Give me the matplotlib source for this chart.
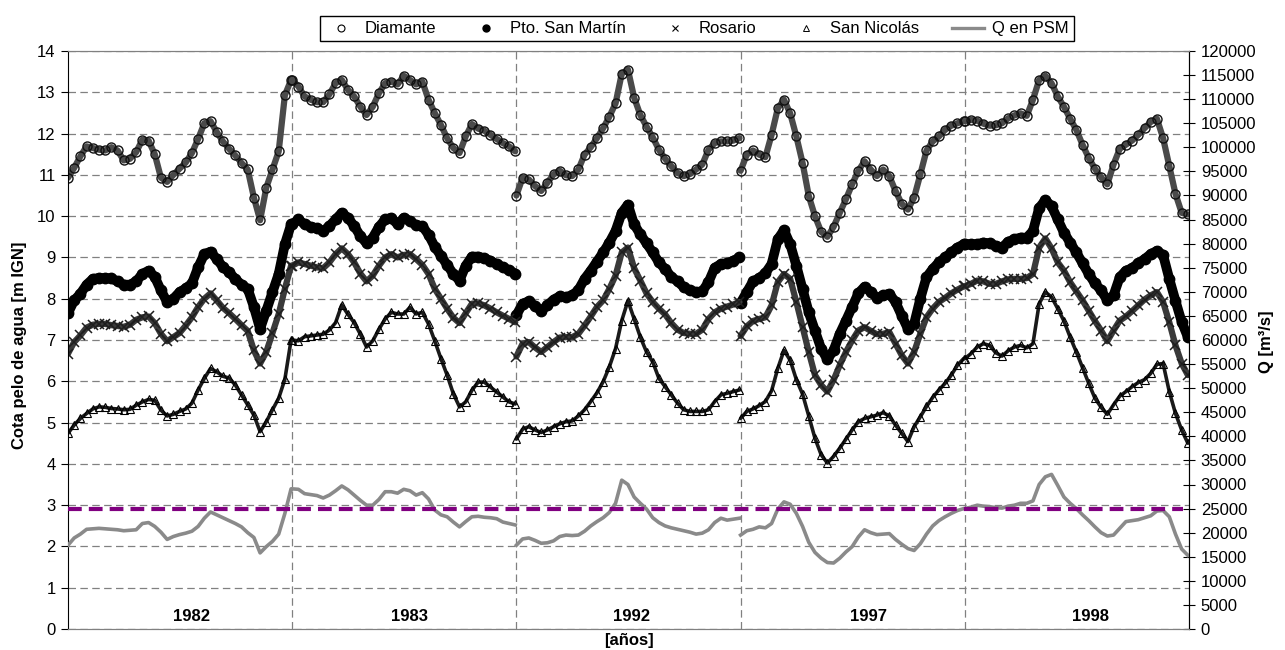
import numpy as np
import matplotlib
import matplotlib.pyplot as plt
from matplotlib.lines import Line2D

matplotlib.use('Agg')
plt.rcParams['font.family'] = ['Liberation Sans', 'DejaVu Sans']

anios = ['1982', '1983', '1992', '1997', '1998']

# Lecturas cada ~10 días (37 por año), cota en m IGN
diamante_1982 = [10.93, 11.17, 11.45, 11.69, 11.65, 11.61, 11.59, 11.67, 11.59, 11.35, 11.39, 11.55, 11.85, 11.83,
                 11.5, 10.93, 10.83, 11.0, 11.15, 11.3, 11.53, 11.87, 12.25, 12.3, 12.04, 11.81, 11.63, 11.47,
                 11.29, 11.13, 10.45, 9.9, 10.69, 11.13, 11.57, 12.93, 13.3]
diamante_1983 = [13.3, 13.14, 12.9, 12.82, 12.76, 12.76, 12.95, 13.22, 13.3, 13.06, 12.9, 12.65, 12.45, 12.65,
                 12.98, 13.22, 13.26, 13.19, 13.4, 13.3, 13.19, 13.26, 12.82, 12.5, 12.21, 11.89, 11.65, 11.53,
                 11.93, 12.23, 12.12, 12.07, 11.97, 11.87, 11.77, 11.69, 11.57]
diamante_1992 = [10.5, 10.93, 10.89, 10.73, 10.61, 10.81, 11.01, 11.1, 10.99, 10.97, 11.13, 11.49, 11.67, 11.89,
                 12.13, 12.41, 12.73, 13.45, 13.55, 12.87, 12.45, 12.17, 11.91, 11.61, 11.39, 11.21, 11.05, 10.97,
                 11.02, 11.13, 11.25, 11.61, 11.77, 11.81, 11.81, 11.83, 11.89]
diamante_1997 = [11.1, 11.49, 11.59, 11.49, 11.43, 11.97, 12.61, 12.82, 12.49, 11.93, 11.29, 10.49, 10.0, 9.62,
                 9.5, 9.74, 10.08, 10.41, 10.77, 11.1, 11.33, 11.13, 10.97, 11.13, 10.97, 10.61, 10.3, 10.16,
                 10.45, 11.01, 11.59, 11.81, 11.93, 12.09, 12.19, 12.25, 12.3]
diamante_1998 = [12.3, 12.33, 12.31, 12.24, 12.19, 12.2, 12.25, 12.37, 12.44, 12.49, 12.43, 12.82, 13.3, 13.4,
                 13.22, 12.9, 12.65, 12.36, 12.09, 11.73, 11.41, 11.15, 10.94, 10.77, 11.25, 11.63, 11.73, 11.83,
                 11.97, 12.13, 12.28, 12.36, 11.89, 11.21, 10.54, 10.08, 10.04]

psm_1982 = [7.65, 7.96, 8.12, 8.34, 8.48, 8.5, 8.5, 8.49, 8.42, 8.34, 8.34, 8.42, 8.6, 8.68, 8.53, 8.2, 7.92, 8.0,
            8.16, 8.25, 8.37, 8.76, 9.08, 9.14, 8.96, 8.77, 8.64, 8.48, 8.34, 8.24, 7.8, 7.27, 7.71, 8.16, 8.6,
            9.32, 9.8]
psm_1983 = [9.8, 9.92, 9.8, 9.74, 9.71, 9.64, 9.76, 9.92, 10.08, 9.96, 9.76, 9.52, 9.34, 9.48, 9.74, 9.92, 9.96,
            9.8, 9.96, 9.88, 9.78, 9.76, 9.55, 9.26, 9.04, 8.82, 8.6, 8.44, 8.8, 9.02, 9.02, 8.98, 8.92, 8.84, 8.76,
            8.69, 8.61]
psm_1992 = [7.6, 7.88, 7.94, 7.82, 7.71, 7.84, 7.98, 8.06, 8.04, 8.08, 8.21, 8.48, 8.68, 8.9, 9.12, 9.36, 9.64,
            10.08, 10.28, 9.8, 9.56, 9.34, 9.12, 8.88, 8.72, 8.53, 8.42, 8.28, 8.2, 8.16, 8.18, 8.4, 8.75, 8.84,
            8.86, 8.92, 9.0]
psm_1997 = [7.9, 8.16, 8.42, 8.5, 8.62, 8.84, 9.44, 9.66, 9.32, 8.8, 8.24, 7.67, 7.23, 6.79, 6.53, 6.75, 7.15,
            7.47, 7.8, 8.13, 8.29, 8.16, 8.02, 8.08, 8.12, 7.92, 7.59, 7.27, 7.39, 8.0, 8.52, 8.72, 8.88, 9.0,
            9.12, 9.24, 9.32]
psm_1998 = [9.32, 9.32, 9.32, 9.36, 9.34, 9.28, 9.24, 9.38, 9.44, 9.48, 9.48, 9.64, 10.2, 10.39, 10.24, 9.92, 9.6,
            9.36, 9.12, 8.86, 8.6, 8.37, 8.2, 7.96, 8.08, 8.52, 8.68, 8.74, 8.86, 8.96, 9.08, 9.16, 9.06, 8.48,
            7.95, 7.44, 7.07]

rosario_1982 = [6.67, 6.95, 7.11, 7.3, 7.37, 7.39, 7.39, 7.36, 7.34, 7.32, 7.37, 7.49, 7.55, 7.57, 7.41, 7.15,
                6.97, 7.07, 7.17, 7.35, 7.55, 7.8, 8.0, 8.13, 7.96, 7.78, 7.65, 7.51, 7.36, 7.22, 6.75, 6.43,
                6.71, 7.17, 7.63, 8.24, 8.8]
rosario_1983 = [8.8, 8.88, 8.84, 8.8, 8.76, 8.74, 8.88, 9.08, 9.22, 9.08, 8.88, 8.61, 8.42, 8.56, 8.8, 9.0, 9.08,
                9.0, 9.06, 9.08, 8.96, 8.82, 8.6, 8.24, 8.0, 7.76, 7.54, 7.41, 7.65, 7.88, 7.89, 7.84, 7.76, 7.67,
                7.59, 7.51, 7.43]
rosario_1992 = [6.6, 6.91, 6.95, 6.82, 6.71, 6.83, 6.95, 7.06, 7.07, 7.07, 7.15, 7.35, 7.57, 7.8, 7.96, 8.24,
                8.56, 9.12, 9.24, 8.74, 8.44, 8.13, 7.92, 7.76, 7.62, 7.41, 7.25, 7.17, 7.15, 7.15, 7.25, 7.51,
                7.67, 7.76, 7.81, 7.86, 7.92]
rosario_1997 = [7.1, 7.33, 7.46, 7.51, 7.55, 7.84, 8.4, 8.6, 8.48, 7.92, 7.31, 6.71, 6.15, 5.91, 5.75, 6.03, 6.39,
                6.71, 6.99, 7.23, 7.31, 7.22, 7.14, 7.15, 7.19, 6.91, 6.63, 6.43, 6.71, 7.15, 7.55, 7.76, 7.92,
                8.02, 8.13, 8.22, 8.3]
rosario_1998 = [8.3, 8.36, 8.44, 8.42, 8.36, 8.36, 8.42, 8.47, 8.48, 8.48, 8.5, 8.6, 9.24, 9.46, 9.22, 8.88, 8.68,
                8.4, 8.18, 7.96, 7.71, 7.46, 7.23, 6.97, 7.23, 7.47, 7.57, 7.7, 7.84, 7.98, 8.08, 8.16, 7.92, 7.43,
                6.87, 6.43, 6.15]

nicolas_1982 = [4.74, 4.94, 5.1, 5.22, 5.33, 5.38, 5.37, 5.34, 5.33, 5.31, 5.32, 5.42, 5.5, 5.56, 5.54, 5.3, 5.16,
                5.2, 5.27, 5.33, 5.47, 5.79, 6.07, 6.31, 6.23, 6.12, 6.08, 5.91, 5.67, 5.43, 5.18, 4.78, 5.02,
                5.31, 5.59, 6.05, 7.0]
nicolas_1983 = [7.0, 6.98, 7.08, 7.1, 7.12, 7.14, 7.24, 7.42, 7.85, 7.62, 7.42, 7.14, 6.83, 6.98, 7.26, 7.51,
                7.67, 7.63, 7.63, 7.79, 7.63, 7.67, 7.39, 6.98, 6.55, 6.15, 5.7, 5.38, 5.5, 5.78, 5.98, 5.98, 5.86,
                5.74, 5.62, 5.5, 5.45]
nicolas_1992 = [4.6, 4.84, 4.9, 4.82, 4.76, 4.82, 4.9, 4.97, 5.02, 5.04, 5.16, 5.31, 5.51, 5.72, 5.99, 6.35, 6.79,
                7.47, 7.95, 7.51, 7.07, 6.71, 6.47, 6.07, 5.87, 5.67, 5.47, 5.31, 5.27, 5.27, 5.27, 5.31, 5.51,
                5.67, 5.71, 5.75, 5.79]
nicolas_1997 = [5.1, 5.27, 5.33, 5.41, 5.51, 5.77, 6.31, 6.75, 6.51, 6.04, 5.69, 5.16, 4.62, 4.22, 4.02, 4.18,
                4.38, 4.6, 4.82, 5.02, 5.1, 5.14, 5.18, 5.24, 5.16, 4.94, 4.74, 4.54, 4.9, 5.14, 5.39, 5.61, 5.79,
                5.95, 6.15, 6.39, 6.55]
nicolas_1998 = [6.55, 6.67, 6.83, 6.91, 6.87, 6.69, 6.61, 6.74, 6.83, 6.87, 6.81, 6.91, 7.88, 8.16, 8.04, 7.76,
                7.46, 7.07, 6.71, 6.33, 5.95, 5.59, 5.37, 5.2, 5.43, 5.64, 5.75, 5.87, 5.97, 6.04, 6.19, 6.41, 6.43,
                5.75, 5.22, 4.82, 4.5]

# Caudal en Puerto San Martín [m3/s]
q_1982 = [17400, 18900, 19700, 20700, 20800, 20900, 20800, 20700, 20600, 20400, 20500, 20600, 21900, 22100, 21300,
          20100, 18600, 19200, 19600, 19900, 20300, 21300, 23000, 24300, 23700, 23100, 22500, 21900, 21200, 20000,
          19000, 15800, 17100, 18200, 19700, 24000, 29100]
q_1983 = [29100, 29000, 28100, 27900, 27700, 27200, 27800, 28700, 29700, 28900, 27800, 26700, 25700, 25700, 26900,
          28500, 28500, 28200, 29000, 28700, 27800, 28300, 27000, 24700, 23700, 23300, 22200, 21200, 22300, 23300,
          23400, 23200, 23100, 22900, 22200, 21900, 21600]
q_1992 = [17400, 18700, 18900, 18400, 17800, 17900, 18300, 19200, 19500, 19400, 19500, 20300, 21400, 22300, 23100,
          24200, 26100, 30900, 30000, 27400, 26100, 24900, 23100, 22100, 21400, 21000, 20700, 20400, 20100, 19700,
          19900, 20600, 22100, 23000, 22600, 22800, 23000]
q_1997 = [19500, 20400, 20700, 21200, 21000, 21900, 24900, 26400, 25900, 24000, 21300, 18000, 15900, 14700, 13800,
          13700, 14700, 16000, 17100, 19100, 20600, 20000, 19600, 19700, 19800, 18600, 17600, 16700, 16300, 17700,
          19700, 21400, 22500, 23300, 24000, 24600, 25000]
q_1998 = [25000, 25300, 25700, 25500, 25400, 25200, 25100, 25500, 25700, 26100, 26100, 26600, 30000, 31600, 32100,
          29800, 27400, 26100, 25000, 23700, 22500, 21200, 20000, 19300, 19500, 20900, 22300, 22500, 22700, 23100,
          23500, 24500, 24600, 23300, 19700, 16600, 15300]

q_umbral = 25000

pasos = np.arange(37) / 36 * 0.995


def serie(por_anio):
    # une los años; 1983-1992 y 1992-1997 no son continuos
    xs, ys = [], []
    for i, vals in enumerate(por_anio):
        xs.append(i + pasos)
        ys.append(np.asarray(vals, dtype=float))
        if i in (1, 2):
            xs.append([np.nan])
            ys.append([np.nan])
    return np.concatenate(xs), np.concatenate(ys)


x_d, y_d = serie([diamante_1982, diamante_1983, diamante_1992, diamante_1997, diamante_1998])
x_p, y_p = serie([psm_1982, psm_1983, psm_1992, psm_1997, psm_1998])
x_r, y_r = serie([rosario_1982, rosario_1983, rosario_1992, rosario_1997, rosario_1998])
x_n, y_n = serie([nicolas_1982, nicolas_1983, nicolas_1992, nicolas_1997, nicolas_1998])
x_q, y_q = serie([q_1982, q_1983, q_1992, q_1997, q_1998])

fig = plt.figure(figsize=(12.85, 6.5), dpi=100)
ax = fig.add_axes([68 / 1285, 21 / 650, 1121 / 1285, 578 / 650])
ax2 = ax.twinx()

# bandas gruesas: en el original hay un dato por día y los marcadores se pisan
ax.plot(x_d, y_d, color='#4a4a4a', lw=4.5, solid_capstyle='round')
ax.plot(x_d, y_d, ls='none', marker='o', ms=6.5, mfc='none', mec='#111111', mew=1.0)
ax.plot(x_p, y_p, color='black', lw=7, marker='o', ms=7.5, mfc='black', mec='black', solid_capstyle='round')
ax.plot(x_r, y_r, color='#3a3a3a', lw=4.5, solid_capstyle='round')
ax.plot(x_r, y_r, ls='none', marker='x', ms=7.5, mec='#1e1e1e', mew=1.1)
ax.plot(x_n, y_n, color='#1a1a1a', lw=2.6, solid_capstyle='round')
ax.plot(x_n, y_n, ls='none', marker='^', ms=5.5, mfc='none', mec='black', mew=0.8)

ax2.plot(x_q, y_q, color='#8a8a8a', lw=2.6)
ax2.axhline(q_umbral, xmin=0, xmax=0.995, color='#800080', lw=3, linestyle=(0, (3.3, 1.7)))

ax.set_xlim(0, 5)
ax.set_ylim(0, 14)
ax2.set_ylim(0, 120000)
ax.set_yticks(range(0, 15))
ax2.set_yticks(range(0, 120001, 5000))

ax.set_xticks([1, 2, 3, 4])
ax.tick_params(axis='x', length=0, labelbottom=False)
ax.tick_params(axis='y', direction='out', length=5, labelsize=12, pad=4)
ax2.tick_params(axis='y', direction='inout', length=9, labelsize=12, pad=4)
ax.grid(True, color='#808080', lw=0.9, linestyle=(0, (6, 3.5)))

for lado in ['top', 'bottom']:
    ax.spines[lado].set_color('#808080')
    ax2.spines[lado].set_color('#808080')
ax2.spines['left'].set_visible(False)

pos_anio = [0.55, 1.525, 2.515, 3.57, 4.56]
for p, a in zip(pos_anio, anios):
    ax.text(p, 0.3, a, ha='center', va='center', fontsize=12, fontweight='bold')

fig.text(629 / 1285, 1 - 641 / 650, '[años]', ha='center', va='center', fontsize=12, fontweight='bold')
fig.text(19.5 / 1285, 1 - 345 / 650, 'Cota pelo de agua [m IGN]', rotation=90, ha='center', va='center',
         fontsize=12, fontweight='bold')
fig.text(1267 / 1285, 1 - 342 / 650, 'Q [m³/s]', rotation=90, ha='center', va='center',
         fontsize=12, fontweight='bold')

manijas = [
    Line2D([], [], ls='none', marker='o', ms=5, mfc='none', mec='black', mew=0.8),
    Line2D([], [], ls='none', marker='o', ms=5, mfc='black', mec='black'),
    Line2D([], [], ls='none', marker='x', ms=5, mec='black', mew=0.8),
    Line2D([], [], ls='none', marker='^', ms=4, mfc='none', mec='black', mew=0.7),
    Line2D([], [], color='#8a8a8a', lw=2.4),
]
nombres = ['Diamante', 'Pto. San Martín', 'Rosario', 'San Nicolás', 'Q en PSM']
fig.legend(manijas, nombres, loc='upper center', bbox_to_anchor=(697 / 1285, 1 - 8 / 650), ncol=5,
           fontsize=12, frameon=True, fancybox=False, edgecolor='black', framealpha=1,
           handlelength=1.9, handletextpad=0.5, columnspacing=2.0, borderpad=0.3)

fig.savefig('out.png', dpi=100)
